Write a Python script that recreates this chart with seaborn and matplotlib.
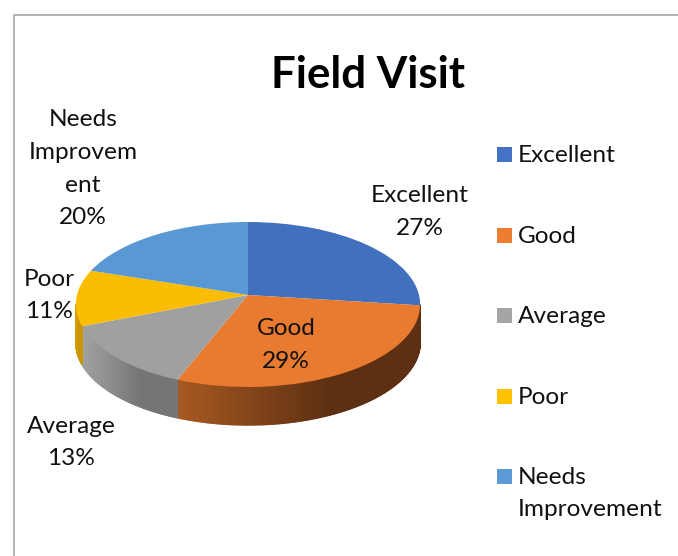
import numpy as np
import matplotlib
matplotlib.use('Agg')
import matplotlib.pyplot as plt
import matplotlib.transforms as mtransforms
from matplotlib.colors import to_rgb
from matplotlib.patches import Rectangle
import seaborn as sns

categories = ['Excellent', 'Good', 'Average', 'Poor', 'Needs Improvement']
values = [27, 29, 13, 11, 20]
colors = ['#4472C4', '#ED7D31', '#A5A5A5', '#FFC000', '#5B9BD5']
# the lit top of the pie comes out a touch darker than the legend swatches
top_colors = ['#4170BF', '#E97B30', '#A0A0A0', '#FBBD00', '#5998D2']
# side wall shading, left end to right end of each slice
wall_left = ['#2F5597', '#A85A20', '#A3A3A3', '#D9A300', '#3F6F9F']
wall_right = ['#2F5597', '#5E3013', '#757575', '#C89600', '#3F6F9F']
label_lines = [['Excellent', '27%'], ['Good', '29%'], ['Average', '13%'],
               ['Poor', '11%'], ['Needs', 'Improvem', 'ent', '20%']]

sns.set_theme(style='white')
plt.rcParams['font.family'] = ['Lato', 'DejaVu Sans']
palette = sns.color_palette(colors)

# pixel geometry of the tilted pie
CX, CY = 248, 295
RX, RY = 171, 81.4
PERSP = 0.115
DEPTH = 38
FS = 17.6


class Tilt(mtransforms.Transform):
    # unit disc -> pixel position, with a bit of perspective
    input_dims = 2
    output_dims = 2

    def transform_non_affine(self, xy):
        xy = np.asarray(xy, dtype=float)
        w = 1 + PERSP * xy[:, 1]
        return np.column_stack([CX + RX * xy[:, 0] / w, CY - RY * xy[:, 1] / w])


fig = plt.figure(figsize=(6.78, 5.56), dpi=100)
ax = fig.add_axes([0, 0, 1, 1])

wedges, _ = ax.pie(values, colors=top_colors, startangle=90, counterclock=False,
                   wedgeprops={'linewidth': 0})
ax.set_aspect('auto')
ax.set_xlim(0, 678)
ax.set_ylim(556, 0)
ax.axis('off')

tilt = Tilt()

# side walls, cut in thin strips so the shade can run along the slice
for w, left, right in zip(wedges, wall_left, wall_right):
    th = np.radians(np.linspace(w.theta1, w.theta2, 240))
    # only the front of the rim shows, the widest point sits at v = -PERSP
    th = th[np.sin(th) < -PERSP]
    if len(th) < 2:
        continue
    pts = tilt.transform(np.column_stack([np.cos(th), np.sin(th)]))
    lo, hi = pts[:, 0].min(), pts[:, 0].max()
    c0, c1 = np.array(to_rgb(left)), np.array(to_rgb(right))
    for i in range(len(pts) - 1):
        p, q = pts[i], pts[i + 1]
        t = min(1, ((p[0] + q[0]) / 2 - lo) / max(hi - lo, 1) * 1.6)
        col = c0 + (c1 - c0) * t
        ax.fill([p[0], q[0], q[0], p[0]],
                [p[1], q[1], q[1] + DEPTH, p[1] + DEPTH],
                color=col, lw=1.0, zorder=1)

# top face
for w in wedges:
    w.set_transform(tilt + ax.transData)
    w.set_zorder(2)
    w.set_clip_on(False)

# chart frame, only top and left fall inside the crop
ax.plot([13.5, 13.5, 678], [556, 15, 15], color='#A6A6A6', lw=1.2, zorder=0)

ax.text(368, 88, 'Field Visit', fontsize=31.6, fontweight='bold', color='black',
        ha='center', va='baseline', zorder=3)

# data labels, line by line
label_pos = [(420, [202, 235]), (286, [335, 368]), (71, [433, 465]),
             (49, [286, 318]), (83, [126, 159, 192, 224])]
for lines, (x, ys) in zip(label_lines, label_pos):
    for line, y in zip(lines, ys):
        ax.text(x, y, line, fontsize=FS, color='#111111', ha='center',
                va='baseline', zorder=3)

# legend
legend_y = [154, 235, 315, 396, 476]
for cat, col, y in zip(categories, palette, legend_y):
    ax.add_patch(Rectangle((497, y - 7.5), 15, 15, color=col, lw=0, zorder=3))
    if cat == 'Needs Improvement':
        ax.text(518, y + 8, 'Needs', fontsize=FS, color='#111111', va='baseline')
        ax.text(518, y + 40, 'Improvement', fontsize=FS, color='#111111', va='baseline')
    else:
        ax.text(518, y + 8, cat, fontsize=FS, color='#111111', va='baseline')

fig.savefig('out.png', dpi=100)
